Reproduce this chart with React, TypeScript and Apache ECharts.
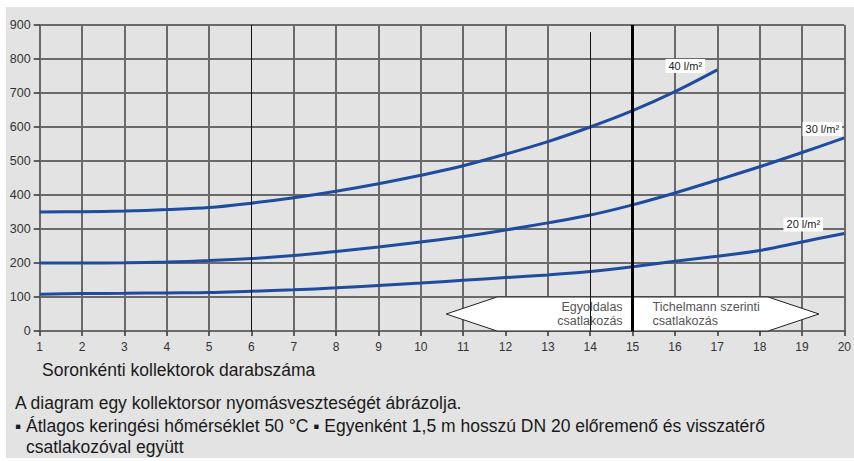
import React, { useEffect, useRef } from "react";
import * as echarts from "echarts";

const collectorCounts = [1, 2, 3, 4, 5, 6, 7, 8, 9, 10, 11, 12, 13, 14, 15, 16, 17, 18, 19, 20];
const flow40 = [350, 351, 353, 357, 363, 376, 392, 411, 433, 458, 486, 520, 557, 600, 648, 704, 768];
const flow30 = [200, 200, 201, 203, 207, 213, 222, 234, 247, 262, 278, 297, 318, 341, 371, 406, 444, 483, 525, 568];
const flow20 = [108, 110, 111, 112, 113, 117, 121, 127, 134, 141, 149, 157, 165, 175, 189, 205, 220, 237, 262, 287];
const seriesNames = ["40 l/m²", "30 l/m²", "20 l/m²"];
const arrowTexts = ["Egyoldalas\ncsatlakozás", "Tichelmann szerinti\ncsatlakozás"];
// [tip x, neck x, body end x] in collector counts
const arrowLeft = [10.6, 11.8, 15];
const arrowRight = [19.4, 18.2, 15];
const divisionX = 15;
const xLabel = "Soronkénti kollektorok darabszáma";
const noteLines = [
  "A diagram egy kollektorsor nyomásveszteségét ábrázolja.",
  "▪ Átlagos keringési hőmérséklet 50 °C ▪ Egyenként 1,5 m hosszú DN 20 előremenő és visszatérő",
  "csatlakozóval együtt",
];

const FONT = "Liberation Sans, Arial, Helvetica, sans-serif";
const BLUE = "#1f4c9e";
const GRID = "#6a6a6a";

function pairs(vals: number[]) {
  return vals.map((v, i) => [collectorCounts[i], v]);
}

export default function App() {
  const ref = useRef<HTMLDivElement>(null);
  useEffect(() => {
    document.body.style.margin = "0";
    if (!ref.current) return;
    const chart = echarts.init(ref.current, null, { renderer: "svg" });
    const splitColors = collectorCounts.map((x) =>
      x === 6 || x === 14 || x === 15 ? "rgba(0,0,0,0)" : GRID
    );
    const curve = (name: string, vals: number[], extra: any = {}) => {
      const d = pairs(vals);
      const last = d[d.length - 1];
      return {
        type: "line",
        name,
        data: d,
        smooth: 0.35,
        showSymbol: false,
        symbol: "none",
        z: 3,
        lineStyle: { color: BLUE, width: 3 },
        markPoint: {
          silent: true,
          symbol: "rect",
          symbolSize: 0,
          z: 6,
          data: [
            {
              coord: last,
              label: {
                show: true,
                formatter: name,
                position: "inside",
                offset: extra.offset,
                color: "#222",
                fontSize: 11,
                fontFamily: FONT,
                backgroundColor: "#ffffff",
                padding: [2, 3, 1, 3],
              },
            },
          ],
        },
        ...(extra.markLine ? { markLine: extra.markLine } : {}),
      };
    };
    const noteStyle = (text: string) => ({
      text,
      fill: "#1a1a1a",
      font: `17.5px ${FONT}`,
      verticalAlign: "middle",
    });
    const option: any = {
      animation: false,
      backgroundColor: "#e3e3e3",
      grid: { left: 33.7, right: 5, top: 18, bottom: 127, containLabel: false },
      xAxis: {
        type: "value",
        min: 1,
        max: 20,
        interval: 1,
        axisLine: { show: true, lineStyle: { color: GRID, width: 2 } },
        axisTick: { show: true, length: 5, lineStyle: { color: "#333", width: 1.5 } },
        axisLabel: { color: "#333", fontSize: 12, fontFamily: FONT, margin: 10 },
        splitLine: { show: true, lineStyle: { color: splitColors, width: 2 } },
      },
      yAxis: {
        type: "value",
        min: 0,
        max: 900,
        interval: 100,
        axisLine: { show: true, lineStyle: { color: GRID, width: 2 } },
        axisTick: { show: true, length: 6, lineStyle: { color: "#333", width: 1.5 } },
        axisLabel: { color: "#333", fontSize: 12.5, fontFamily: FONT, margin: 9 },
        splitLine: { show: true, lineStyle: { color: GRID, width: 2 } },
      },
      series: [
        curve(seriesNames[0], flow40, { offset: [-32, -4] }),
        curve(seriesNames[1], flow30, { offset: [-22, -9] }),
        curve(seriesNames[2], flow20, {
          offset: [-41, -9],
          markLine: {
            silent: true,
            symbol: ["none", "none"],
            label: { show: false },
            lineStyle: { color: "#111", width: 1, type: "solid" },
            data: [{ xAxis: 6 }, [{ coord: [14, 0] }, { coord: [14, 879] }]],
          },
        }),
        {
          type: "custom",
          z: 4,
          silent: true,
          clip: false,
          data: [[arrowLeft[2], 50], [arrowRight[2], 50]],
          renderItem: (params: any, api: any) => {
            const i = params.dataIndex;
            const a = i === 0 ? arrowLeft : arrowRight;
            const tip = api.coord([a[0], 50]);
            const nt = api.coord([a[1], 100]);
            const nb = api.coord([a[1], 0]);
            const et = api.coord([a[2], 100]);
            const eb = api.coord([a[2], 0]);
            const points = [tip, nt, et, eb, nb];
            return {
              type: "group",
              children: [
                {
                  type: "polygon",
                  shape: { points },
                  style: { fill: "#ffffff", stroke: "#222", lineWidth: 1 },
                },
                {
                  type: "text",
                  x: i === 0 ? et[0] - 10 : et[0] + 20,
                  y: tip[1],
                  style: {
                    text: arrowTexts[i],
                    align: i === 0 ? "right" : "left",
                    verticalAlign: "middle",
                    fill: "#555",
                    fontSize: 12.5,
                    fontFamily: FONT,
                    lineHeight: 14,
                  },
                },
              ],
            };
          },
        },
        {
          type: "line",
          data: [],
          z: 10,
          markLine: {
            silent: true,
            symbol: ["none", "none"],
            label: { show: false },
            lineStyle: { color: "#000", width: 3, type: "solid" },
            data: [{ xAxis: divisionX }],
          },
        },
      ],
      graphic: [
        { type: "text", x: 36, y: 363, style: noteStyle(xLabel) },
        { type: "text", x: 9, y: 396, style: noteStyle(noteLines[0]) },
        { type: "text", x: 9, y: 419, style: noteStyle(noteLines[1]) },
        { type: "text", x: 20, y: 440, style: noteStyle(noteLines[2]) },
      ],
    };
    chart.setOption(option);
    return () => chart.dispose();
  }, []);
  return (
    <div style={{ position: "relative", width: 854, height: 461, background: "#ffffff" }}>
      <div
        ref={ref}
        style={{ position: "absolute", left: 6, top: 7, width: 848, height: 451 }}
      />
    </div>
  );
}
